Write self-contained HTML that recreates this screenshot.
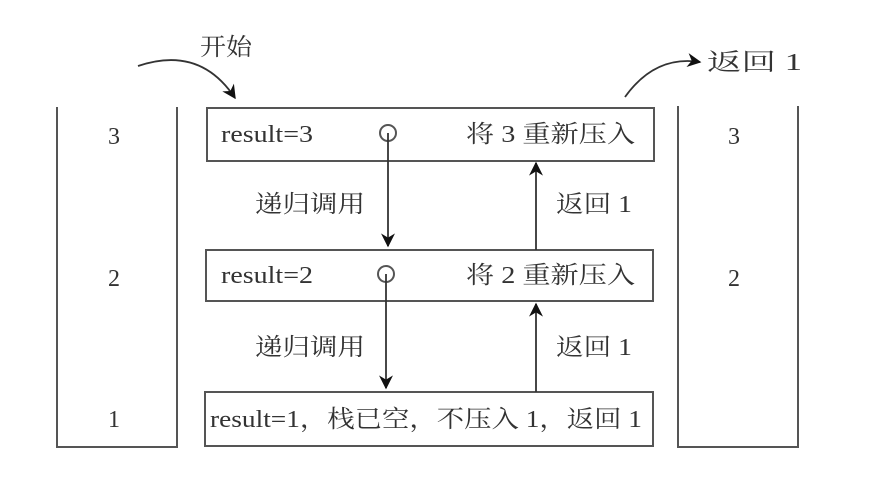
<!DOCTYPE html>
<html><head><meta charset="utf-8"><style>
html,body{margin:0;padding:0;background:#fff;}
svg{display:block;}
text{font-family:"Liberation Serif","Noto Serif CJK SC",serif;fill:#333;font-size:24px;}
</style></head><body>
<svg width="880" height="478" viewBox="0 0 880 478" xmlns="http://www.w3.org/2000/svg">
<defs>
<marker id="ah2" viewBox="0 0 10 10" refX="9" refY="5" markerWidth="14" markerHeight="14" orient="auto" markerUnits="userSpaceOnUse">
<path d="M0,0 L10,5 L0,10 L3,5 z" fill="#111"/></marker>
</defs>
<g fill="none" stroke="#555" stroke-width="2">
<path d="M57,107 V447 H177 V107"/>
<path d="M678,106 V447 H798 V106"/>
<rect x="207" y="108" width="447" height="53"/>
<rect x="206" y="250" width="447" height="51"/>
<rect x="205" y="392" width="448" height="54"/>
<circle cx="388" cy="133" r="8"/>
<circle cx="386" cy="274" r="8"/>
</g>
<g stroke="#333" stroke-width="1.8" fill="none">
<line x1="388" y1="133" x2="388" y2="246" marker-end="url(#ah2)"/>
<line x1="386" y1="274" x2="386" y2="388" marker-end="url(#ah2)"/>
<line x1="536" y1="250" x2="536" y2="163" marker-end="url(#ah2)"/>
<line x1="536" y1="392" x2="536" y2="304" marker-end="url(#ah2)"/>
<path d="M138,66 Q200,45 235,98" marker-end="url(#ah2)"/>
<path d="M625,97 Q655,55 700,62" marker-end="url(#ah2)"/>
</g>
<text x="200" y="55" textLength="52" lengthAdjust="spacingAndGlyphs">开始</text>
<text x="707" y="70" textLength="95" lengthAdjust="spacingAndGlyphs">返回 1</text>
<text x="108" y="144">3</text>
<text x="108" y="286">2</text>
<text x="108" y="427">1</text>
<text x="728" y="144">3</text>
<text x="728" y="286">2</text>
<text x="221" y="142" textLength="92" lengthAdjust="spacingAndGlyphs">result=3</text>
<text x="466" y="142" textLength="169" lengthAdjust="spacingAndGlyphs">将 3 重新压入</text>
<text x="221" y="283" textLength="92" lengthAdjust="spacingAndGlyphs">result=2</text>
<text x="466" y="283" textLength="169" lengthAdjust="spacingAndGlyphs">将 2 重新压入</text>
<text x="210" y="427" textLength="432" lengthAdjust="spacingAndGlyphs">result=1，栈已空，不压入 1，返回 1</text>
<text x="255" y="212" textLength="110" lengthAdjust="spacingAndGlyphs">递归调用</text>
<text x="255" y="355" textLength="110" lengthAdjust="spacingAndGlyphs">递归调用</text>
<text x="556" y="212" textLength="76" lengthAdjust="spacingAndGlyphs">返回 1</text>
<text x="556" y="355" textLength="76" lengthAdjust="spacingAndGlyphs">返回 1</text>
</svg>
</body></html>
